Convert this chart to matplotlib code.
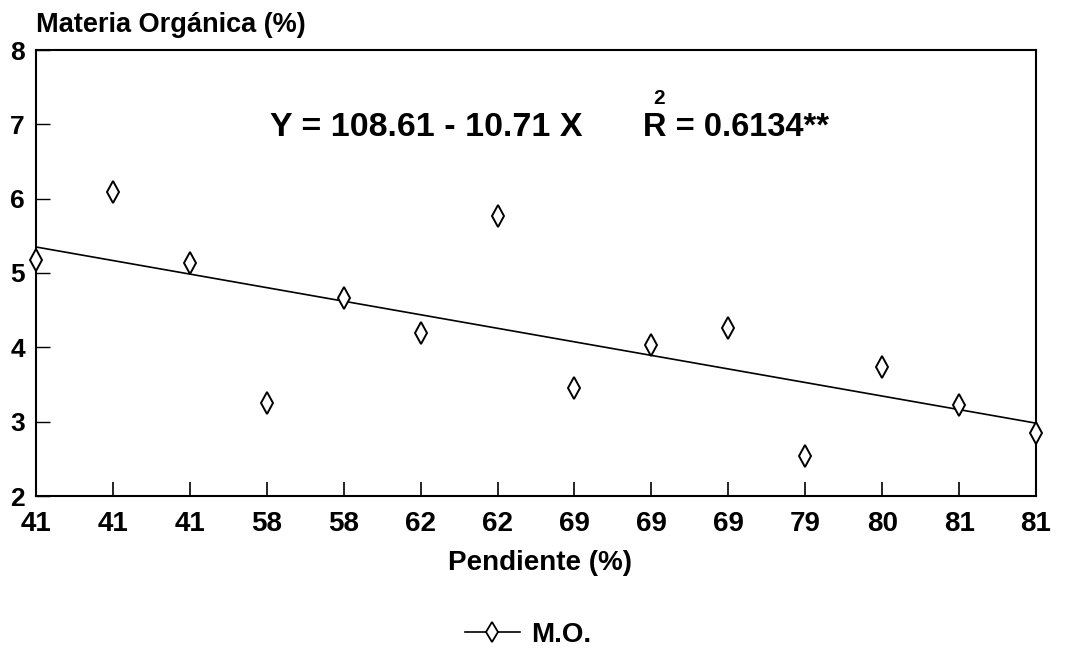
import matplotlib
matplotlib.use("Agg")
import matplotlib.pyplot as plt
import numpy as np

plt.rcParams['font.family'] = ['Liberation Sans', 'DejaVu Sans']
plt.rcParams['font.weight'] = 'bold'

# Data
pendiente_labels = ["41", "41", "41", "58", "58", "62", "62", "69", "69", "69", "79", "80", "81", "81"]
materia_organica = [5.17, 6.09, 5.13, 3.25, 4.66, 4.19, 5.77, 3.45, 4.03, 4.26, 2.54, 3.73, 3.23, 2.85]
fit_endpoints = [5.35, 2.98]
y_ticks = [2, 3, 4, 5, 6, 7, 8]

fig = plt.figure(figsize=(10.69, 6.5), dpi=100)
ax = fig.add_axes([36/1069, 1-496/650, 1000/1069, 446/650])

x = np.arange(len(pendiente_labels))
ax.plot([x[0], x[-1]], fit_endpoints, color='black', lw=1.2, zorder=2)
ax.plot(x, materia_organica, linestyle='none', marker='d', markersize=11,
        markerfacecolor='white', markeredgecolor='black', markeredgewidth=1.4,
        clip_on=False, zorder=3)

ax.set_xlim(0, len(x)-1)
ax.set_ylim(2, 8)
ax.set_xticks(x)
ax.set_xticklabels(pendiente_labels, fontsize=20, fontweight='bold')
ax.set_yticks(y_ticks)
ax.set_yticklabels([str(t) for t in y_ticks], fontsize=19, fontweight='bold')
ax.tick_params(axis='x', direction='in', length=10, width=1.2, pad=11)
ax.tick_params(axis='y', direction='in', length=10, width=1.0, pad=8)
for s in ax.spines.values():
    s.set_linewidth(1.5)

fig.text(36/1069, 1-25/650, "Materia Orgánica (%)", fontsize=19.5, fontweight='bold',
         ha='left', va='center')
fig.text(540/1069, 1-563/650, "Pendiente (%)", fontsize=20, fontweight='bold',
         ha='center', va='center')

fig.text(270/1069, 1-128/650, "Y = 108.61 - 10.71 X", fontsize=24.5, fontweight='bold',
         ha='left', va='center')
fig.text(643/1069, 1-128/650, "R = 0.6134**", fontsize=23.5, fontweight='bold',
         ha='left', va='center')
fig.text(659/1069, 1-99/650, "2", fontsize=15, fontweight='bold',
         ha='center', va='center')

# legend
handle, = ax.plot([], [], color='black', lw=1.2, marker='d', markersize=10,
                  markerfacecolor='white', markeredgecolor='black', markeredgewidth=1.3)
fig.legend([handle], ["M.O."], loc='center', bbox_to_anchor=(528/1069, 1-635/650),
           frameon=False, prop={'size': 20, 'weight': 'bold'}, handlelength=2.0,
           handletextpad=0.4, borderpad=0.1)

fig.savefig("out.png", dpi=100, facecolor='white')
